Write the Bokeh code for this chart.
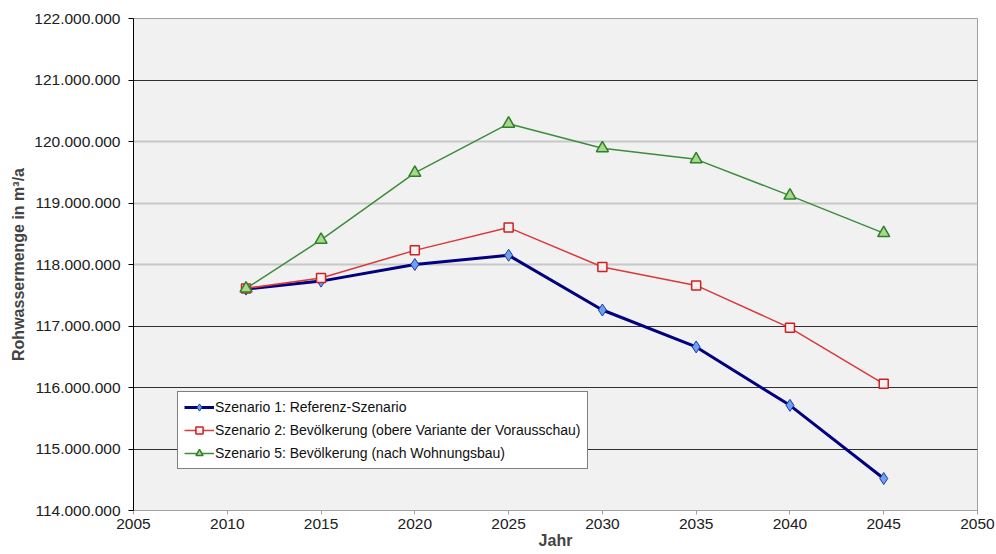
from bokeh.plotting import figure
from bokeh.models import FixedTicker, Grid, Range1d, Legend, LegendItem
from bokeh.embed import file_html
from bokeh.resources import INLINE

# Jahre und Rohwassermenge (m³/a) je Szenario
jahre = [2011, 2015, 2020, 2025, 2030, 2035, 2040, 2045]
szenario_1 = [117_600_000, 117_730_000, 118_000_000, 118_150_000,
              117_260_000, 116_660_000, 115_710_000, 114_520_000]
szenario_2 = [117_610_000, 117_780_000, 118_230_000, 118_600_000,
              117_960_000, 117_660_000, 116_970_000, 116_060_000]
szenario_5 = [117_610_000, 118_400_000, 119_490_000, 120_290_000,
              119_890_000, 119_710_000, 119_120_000, 118_510_000]

labels = [
    "Szenario 1: Referenz-Szenario",
    "Szenario 2: Bevölkerung (obere Variante der Vorausschau)",
    "Szenario 5: Bevölkerung (nach Wohnungsbau)",
]

x_ticks = [2005, 2010, 2015, 2020, 2025, 2030, 2035, 2040, 2045, 2050]
y_ticks = [114_000_000, 115_000_000, 116_000_000, 117_000_000, 118_000_000,
           119_000_000, 120_000_000, 121_000_000, 122_000_000]
grid_dark = [115_000_000, 116_000_000, 117_000_000, 121_000_000, 122_000_000]
grid_light = [118_000_000, 119_000_000, 120_000_000]

FONT = "Liberation Sans"

p = figure(width=996, height=554, output_backend="svg", toolbar_location=None,
           x_range=Range1d(2005, 2050), y_range=Range1d(114_000_000, 122_000_000),
           min_border_left=133, min_border_right=19, min_border_top=18,
           min_border_bottom=44)
p.background_fill_color = "#f1f1f1"
p.border_fill_color = "white"
p.outline_line_color = "#a0a0a0"
p.grid.visible = False

# Horizontal grid lines in two shades
p.add_layout(Grid(dimension=1, ticker=FixedTicker(ticks=grid_dark),
                  grid_line_color="#303030", grid_line_width=1))
p.add_layout(Grid(dimension=1, ticker=FixedTicker(ticks=grid_light),
                  grid_line_color="#c8c8c8", grid_line_width=2))

# Axes
xa = p.xaxis[0]
xa.ticker = FixedTicker(ticks=x_ticks)
xa.axis_label = "Jahr"
xa.axis_label_text_font = FONT
xa.axis_label_text_font_style = "bold"
xa.axis_label_text_font_size = "16px"
xa.axis_label_standoff = 0
xa.major_label_text_font = FONT
xa.major_label_text_font_size = "15.5px"
xa.major_label_text_color = "#202020"
xa.major_label_standoff = 4
xa.axis_line_color = "#a0a0a0"
xa.major_tick_line_color = "#a0a0a0"
xa.major_tick_out = 4
xa.major_tick_in = 0
xa.minor_tick_line_color = None

ya = p.yaxis[0]
ya.ticker = FixedTicker(ticks=y_ticks)
ya.major_label_overrides = {t: f"{t:,}".replace(",", ".") for t in y_ticks}
ya.axis_label = "Rohwassermenge in m³/a"
ya.axis_label_text_font = FONT
ya.axis_label_text_font_style = "bold"
ya.axis_label_text_font_size = "16px"
ya.axis_label_standoff = 4
ya.major_label_text_font = FONT
ya.major_label_text_font_size = "15.5px"
ya.major_label_text_color = "#202020"
ya.major_label_standoff = 8
ya.axis_line_color = "black"
ya.major_tick_line_color = "black"
ya.major_tick_out = 5
ya.major_tick_in = 0
ya.minor_tick_line_color = None

# Series
l1 = p.line(jahre, szenario_1, line_color="#000080", line_width=3)
m1 = p.scatter(jahre, szenario_1, marker="diamond", size=12,
               fill_color="#6f9ff0", line_color="#1a3aa0", line_width=1)
l2 = p.line(jahre, szenario_2, line_color="#d83a3a", line_width=1.5)
m2 = p.scatter(jahre, szenario_2, marker="square", size=9,
               fill_color="#f6f0f0", line_color="#d02020", line_width=1.5)
l5 = p.line(jahre, szenario_5, line_color="#3c8c3c", line_width=1.5)
m5 = p.scatter(jahre, szenario_5, marker="triangle", size=12,
               fill_color="#a8d88a", line_color="#2f7f2f", line_width=1.5)

legend = Legend(items=[
    LegendItem(label=labels[0], renderers=[l1, m1]),
    LegendItem(label=labels[1], renderers=[l2, m2]),
    LegendItem(label=labels[2], renderers=[l5, m5]),
], location=(44, 41))
legend.label_text_font = FONT
legend.label_text_font_size = "14px"
legend.label_text_color = "#101010"
legend.label_standoff = 1
legend.glyph_width = 30
legend.glyph_height = 18
legend.label_height = 18
legend.spacing = 5
legend.padding = 6
legend.margin = 0
legend.border_line_color = "black"
legend.border_line_width = 1
legend.background_fill_color = "white"
legend.background_fill_alpha = 1
p.add_layout(legend)

open("out.html", "w").write(file_html(p, INLINE))
